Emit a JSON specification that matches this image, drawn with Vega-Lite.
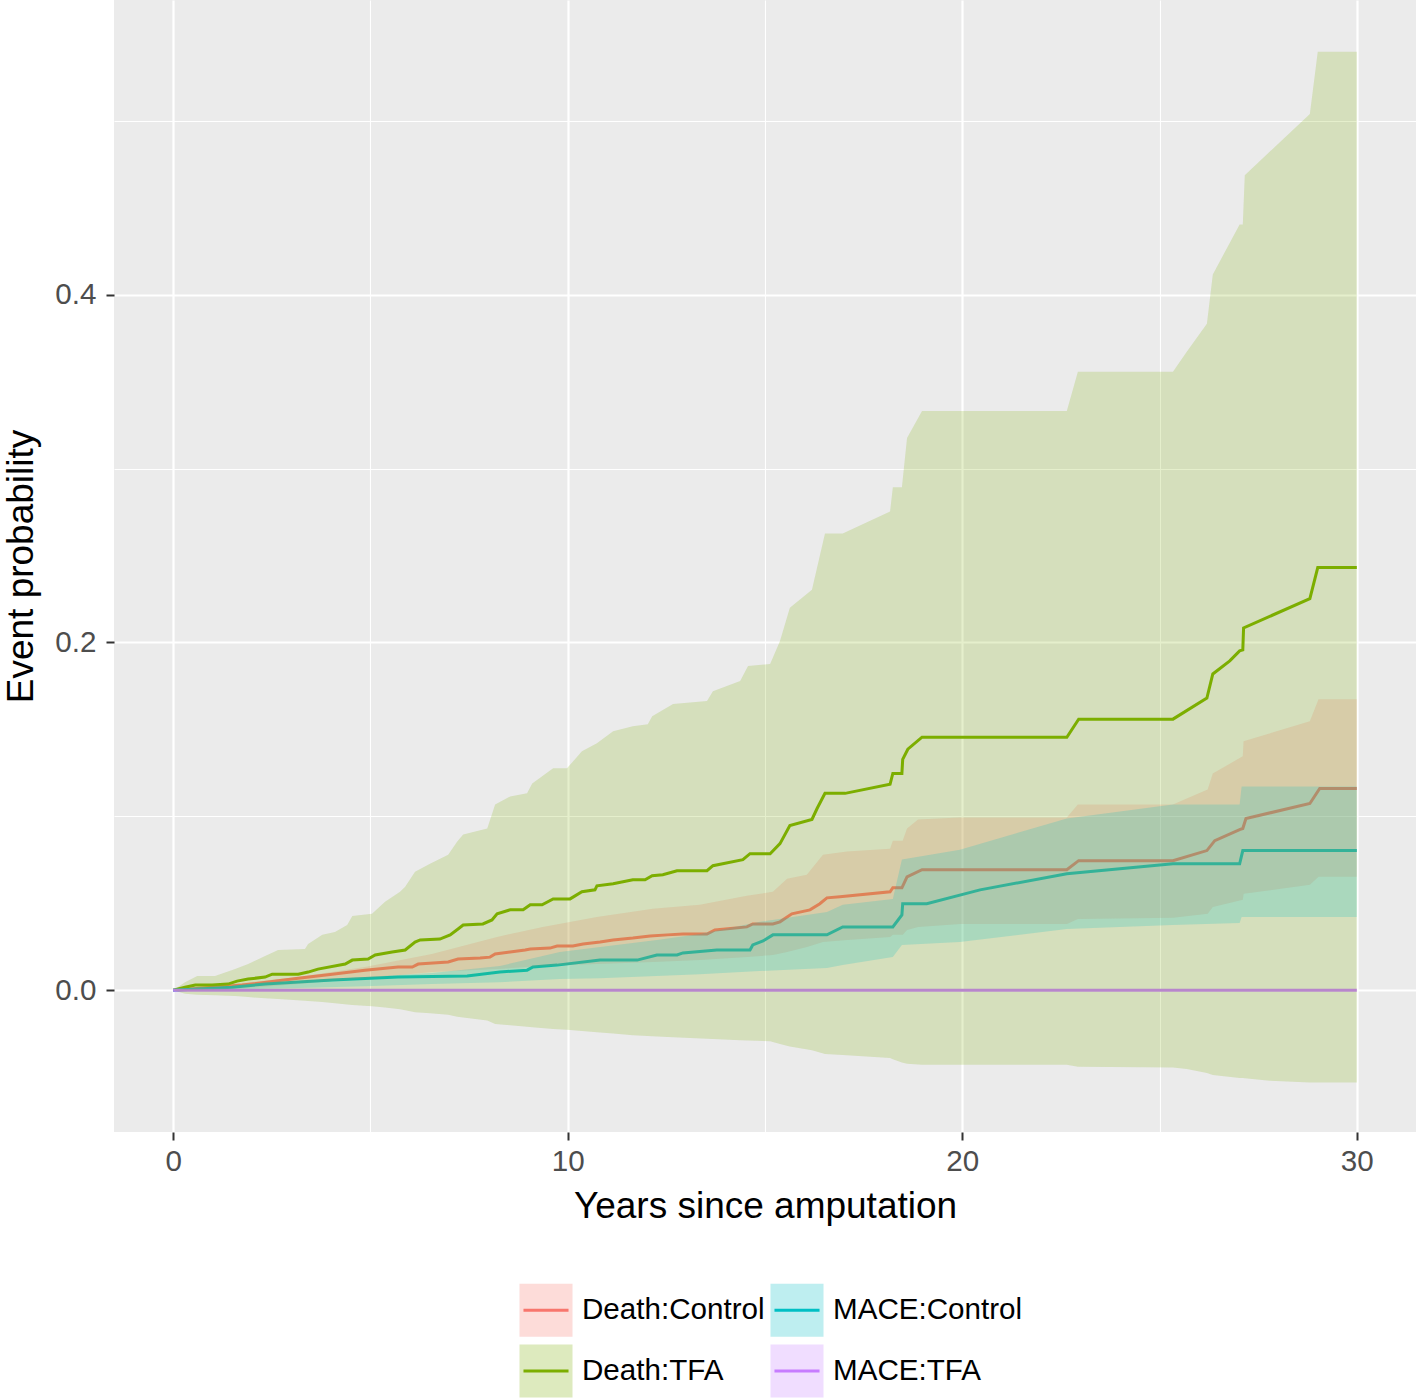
{
  "$schema": "https://vega.github.io/schema/vega-lite/v6.json",
  "width": 1302,
  "height": 1132,
  "autosize": {"type": "none"},
  "padding": {"left": 114, "top": 0, "right": 2, "bottom": 266},
  "background": "white",
  "config": {
    "view": {"fill": "#EBEBEB", "stroke": null},
    "font": "Liberation Sans",
    "axis": {
      "domain": false,
      "gridColor": "white",
      "labelFont": "Liberation Sans",
      "labelFontSize": 29.6,
      "labelColor": "#4D4D4D",
      "tickColor": "#333333",
      "tickWidth": 2,
      "tickSize": 8,
      "titleFont": "Liberation Sans",
      "titleFontSize": 37,
      "titleFontWeight": "normal",
      "titleColor": "black"
    },
    "legend": {
      "orient": "none",
      "legendX": 404,
      "legendY": 1282,
      "direction": "horizontal",
      "columns": 2,
      "title": null,
      "padding": 0,
      "labelFont": "Liberation Sans",
      "labelFontSize": 29.6,
      "labelColor": "black",
      "labelLimit": 500,
      "labelOffset": 8,
      "rowPadding": -20,
      "columnPadding": -1,
      "symbolSize": 2809,
      "symbolStrokeWidth": 3
    }
  },
  "datasets": {
    "lines": [
      {"g": "Death:Control", "t": 0, "v": 0},
      {"g": "Death:Control", "t": 1.75, "v": 0.0029},
      {"g": "Death:Control", "t": 3.17, "v": 0.0069},
      {"g": "Death:Control", "t": 4.03, "v": 0.0092},
      {"g": "Death:Control", "t": 4.86, "v": 0.0115},
      {"g": "Death:Control", "t": 5.7, "v": 0.0133},
      {"g": "Death:Control", "t": 6.06, "v": 0.0133},
      {"g": "Death:Control", "t": 6.21, "v": 0.015},
      {"g": "Death:Control", "t": 6.97, "v": 0.0162},
      {"g": "Death:Control", "t": 7.22, "v": 0.0179},
      {"g": "Death:Control", "t": 7.78, "v": 0.0185},
      {"g": "Death:Control", "t": 8.03, "v": 0.019},
      {"g": "Death:Control", "t": 8.16, "v": 0.0208},
      {"g": "Death:Control", "t": 8.54, "v": 0.0219},
      {"g": "Death:Control", "t": 8.92, "v": 0.0231},
      {"g": "Death:Control", "t": 9.05, "v": 0.0237},
      {"g": "Death:Control", "t": 9.55, "v": 0.0242},
      {"g": "Death:Control", "t": 9.73, "v": 0.0254},
      {"g": "Death:Control", "t": 10.13, "v": 0.0254},
      {"g": "Death:Control", "t": 10.39, "v": 0.0266},
      {"g": "Death:Control", "t": 10.82, "v": 0.0277},
      {"g": "Death:Control", "t": 11.15, "v": 0.0289},
      {"g": "Death:Control", "t": 11.65, "v": 0.03},
      {"g": "Death:Control", "t": 12.09, "v": 0.0312},
      {"g": "Death:Control", "t": 12.52, "v": 0.0318},
      {"g": "Death:Control", "t": 12.92, "v": 0.0323},
      {"g": "Death:Control", "t": 13.53, "v": 0.0323},
      {"g": "Death:Control", "t": 13.73, "v": 0.0346},
      {"g": "Death:Control", "t": 14.54, "v": 0.0364},
      {"g": "Death:Control", "t": 14.69, "v": 0.0381},
      {"g": "Death:Control", "t": 15.2, "v": 0.0381},
      {"g": "Death:Control", "t": 15.38, "v": 0.0393},
      {"g": "Death:Control", "t": 15.68, "v": 0.0439},
      {"g": "Death:Control", "t": 16.14, "v": 0.0462},
      {"g": "Death:Control", "t": 16.39, "v": 0.0497},
      {"g": "Death:Control", "t": 16.57, "v": 0.0531},
      {"g": "Death:Control", "t": 16.9, "v": 0.0537},
      {"g": "Death:Control", "t": 18.17, "v": 0.0566},
      {"g": "Death:Control", "t": 18.24, "v": 0.0589},
      {"g": "Death:Control", "t": 18.47, "v": 0.0589},
      {"g": "Death:Control", "t": 18.6, "v": 0.0652},
      {"g": "Death:Control", "t": 18.98, "v": 0.0693},
      {"g": "Death:Control", "t": 22.65, "v": 0.0693},
      {"g": "Death:Control", "t": 22.95, "v": 0.0745},
      {"g": "Death:Control", "t": 25.34, "v": 0.0745},
      {"g": "Death:Control", "t": 26.2, "v": 0.0803},
      {"g": "Death:Control", "t": 26.4, "v": 0.086},
      {"g": "Death:Control", "t": 27.03, "v": 0.0924},
      {"g": "Death:Control", "t": 27.11, "v": 0.093},
      {"g": "Death:Control", "t": 27.19, "v": 0.0987},
      {"g": "Death:Control", "t": 28.81, "v": 0.1074},
      {"g": "Death:Control", "t": 29.06, "v": 0.116},
      {"g": "Death:Control", "t": 30, "v": 0.116},

      {"g": "Death:TFA", "t": 0, "v": 0},
      {"g": "Death:TFA", "t": 0.3, "v": 0.0017},
      {"g": "Death:TFA", "t": 0.56, "v": 0.0029},
      {"g": "Death:TFA", "t": 0.99, "v": 0.0029},
      {"g": "Death:TFA", "t": 1.39, "v": 0.0035},
      {"g": "Death:TFA", "t": 1.62, "v": 0.0052},
      {"g": "Death:TFA", "t": 1.9, "v": 0.0064},
      {"g": "Death:TFA", "t": 2.33, "v": 0.0075},
      {"g": "Death:TFA", "t": 2.51, "v": 0.0092},
      {"g": "Death:TFA", "t": 3.17, "v": 0.0092},
      {"g": "Death:TFA", "t": 3.42, "v": 0.0104},
      {"g": "Death:TFA", "t": 3.67, "v": 0.0121},
      {"g": "Death:TFA", "t": 4.36, "v": 0.015},
      {"g": "Death:TFA", "t": 4.54, "v": 0.0173},
      {"g": "Death:TFA", "t": 4.94, "v": 0.0179},
      {"g": "Death:TFA", "t": 5.12, "v": 0.0202},
      {"g": "Death:TFA", "t": 5.55, "v": 0.0219},
      {"g": "Death:TFA", "t": 5.88, "v": 0.0231},
      {"g": "Death:TFA", "t": 6.13, "v": 0.0277},
      {"g": "Death:TFA", "t": 6.26, "v": 0.0289},
      {"g": "Death:TFA", "t": 6.76, "v": 0.0294},
      {"g": "Death:TFA", "t": 7.02, "v": 0.0318},
      {"g": "Death:TFA", "t": 7.22, "v": 0.0352},
      {"g": "Death:TFA", "t": 7.35, "v": 0.0375},
      {"g": "Death:TFA", "t": 7.85, "v": 0.0381},
      {"g": "Death:TFA", "t": 8.08, "v": 0.0404},
      {"g": "Death:TFA", "t": 8.21, "v": 0.0439},
      {"g": "Death:TFA", "t": 8.54, "v": 0.0462},
      {"g": "Death:TFA", "t": 8.87, "v": 0.0462},
      {"g": "Death:TFA", "t": 9.05, "v": 0.0491},
      {"g": "Death:TFA", "t": 9.35, "v": 0.0491},
      {"g": "Death:TFA", "t": 9.63, "v": 0.0525},
      {"g": "Death:TFA", "t": 10.06, "v": 0.0525},
      {"g": "Death:TFA", "t": 10.36, "v": 0.0566},
      {"g": "Death:TFA", "t": 10.69, "v": 0.0577},
      {"g": "Death:TFA", "t": 10.74, "v": 0.06},
      {"g": "Death:TFA", "t": 11.15, "v": 0.0612},
      {"g": "Death:TFA", "t": 11.65, "v": 0.0635},
      {"g": "Death:TFA", "t": 11.96, "v": 0.0635},
      {"g": "Death:TFA", "t": 12.14, "v": 0.0658},
      {"g": "Death:TFA", "t": 12.41, "v": 0.0664},
      {"g": "Death:TFA", "t": 12.77, "v": 0.0687},
      {"g": "Death:TFA", "t": 13.53, "v": 0.0687},
      {"g": "Death:TFA", "t": 13.68, "v": 0.0716},
      {"g": "Death:TFA", "t": 14.44, "v": 0.0751},
      {"g": "Death:TFA", "t": 14.62, "v": 0.0785},
      {"g": "Death:TFA", "t": 15.13, "v": 0.0785},
      {"g": "Death:TFA", "t": 15.38, "v": 0.0843},
      {"g": "Death:TFA", "t": 15.63, "v": 0.0947},
      {"g": "Death:TFA", "t": 16.19, "v": 0.0982},
      {"g": "Death:TFA", "t": 16.32, "v": 0.1045},
      {"g": "Death:TFA", "t": 16.52, "v": 0.1132},
      {"g": "Death:TFA", "t": 17.03, "v": 0.1132},
      {"g": "Death:TFA", "t": 18.17, "v": 0.1184},
      {"g": "Death:TFA", "t": 18.24, "v": 0.1247},
      {"g": "Death:TFA", "t": 18.47, "v": 0.1247},
      {"g": "Death:TFA", "t": 18.49, "v": 0.1328},
      {"g": "Death:TFA", "t": 18.62, "v": 0.1386},
      {"g": "Death:TFA", "t": 18.98, "v": 0.1455},
      {"g": "Death:TFA", "t": 22.65, "v": 0.1455},
      {"g": "Death:TFA", "t": 22.95, "v": 0.1559},
      {"g": "Death:TFA", "t": 25.34, "v": 0.1559},
      {"g": "Death:TFA", "t": 26.2, "v": 0.168},
      {"g": "Death:TFA", "t": 26.35, "v": 0.1819},
      {"g": "Death:TFA", "t": 26.78, "v": 0.1894},
      {"g": "Death:TFA", "t": 27.03, "v": 0.1952},
      {"g": "Death:TFA", "t": 27.11, "v": 0.1957},
      {"g": "Death:TFA", "t": 27.13, "v": 0.2084},
      {"g": "Death:TFA", "t": 28.81, "v": 0.2252},
      {"g": "Death:TFA", "t": 29.01, "v": 0.2431},
      {"g": "Death:TFA", "t": 30, "v": 0.2431},

      {"g": "MACE:Control", "t": 0, "v": 0},
      {"g": "MACE:Control", "t": 1.49, "v": 0.0017},
      {"g": "MACE:Control", "t": 2.33, "v": 0.0035},
      {"g": "MACE:Control", "t": 4.03, "v": 0.0058},
      {"g": "MACE:Control", "t": 5.7, "v": 0.0075},
      {"g": "MACE:Control", "t": 7.45, "v": 0.0081},
      {"g": "MACE:Control", "t": 8.28, "v": 0.0104},
      {"g": "MACE:Control", "t": 8.97, "v": 0.0115},
      {"g": "MACE:Control", "t": 9.12, "v": 0.0133},
      {"g": "MACE:Control", "t": 9.73, "v": 0.0144},
      {"g": "MACE:Control", "t": 10.82, "v": 0.0173},
      {"g": "MACE:Control", "t": 11.76, "v": 0.0173},
      {"g": "MACE:Control", "t": 12.26, "v": 0.0202},
      {"g": "MACE:Control", "t": 12.77, "v": 0.0202},
      {"g": "MACE:Control", "t": 12.92, "v": 0.0214},
      {"g": "MACE:Control", "t": 13.78, "v": 0.0231},
      {"g": "MACE:Control", "t": 14.62, "v": 0.0231},
      {"g": "MACE:Control", "t": 14.69, "v": 0.026},
      {"g": "MACE:Control", "t": 14.95, "v": 0.0283},
      {"g": "MACE:Control", "t": 15.2, "v": 0.0318},
      {"g": "MACE:Control", "t": 16.57, "v": 0.0318},
      {"g": "MACE:Control", "t": 16.97, "v": 0.0364},
      {"g": "MACE:Control", "t": 18.24, "v": 0.0364},
      {"g": "MACE:Control", "t": 18.47, "v": 0.0433},
      {"g": "MACE:Control", "t": 18.49, "v": 0.0497},
      {"g": "MACE:Control", "t": 19.1, "v": 0.0497},
      {"g": "MACE:Control", "t": 20.45, "v": 0.0577},
      {"g": "MACE:Control", "t": 22.65, "v": 0.067},
      {"g": "MACE:Control", "t": 25.34, "v": 0.0727},
      {"g": "MACE:Control", "t": 27.03, "v": 0.0727},
      {"g": "MACE:Control", "t": 27.11, "v": 0.0803},
      {"g": "MACE:Control", "t": 30, "v": 0.0803},

      {"g": "MACE:TFA", "t": 0, "v": 0},
      {"g": "MACE:TFA", "t": 30, "v": 0}
    ],
    "bands": [
      {"g": "Death:Control", "t": 0, "lo": 0, "hi": 0},
      {"g": "Death:Control", "t": 1.49, "lo": 0.0006, "hi": 0.0035},
      {"g": "Death:Control", "t": 3.17, "lo": 0.0035, "hi": 0.0075},
      {"g": "Death:Control", "t": 4.86, "lo": 0.0069, "hi": 0.0133},
      {"g": "Death:Control", "t": 6.56, "lo": 0.0104, "hi": 0.0208},
      {"g": "Death:Control", "t": 8.21, "lo": 0.0121, "hi": 0.0306},
      {"g": "Death:Control", "t": 9.37, "lo": 0.0139, "hi": 0.0364},
      {"g": "Death:Control", "t": 10.74, "lo": 0.015, "hi": 0.0421},
      {"g": "Death:Control", "t": 12.16, "lo": 0.0162, "hi": 0.0468},
      {"g": "Death:Control", "t": 13.35, "lo": 0.0173, "hi": 0.0491},
      {"g": "Death:Control", "t": 14.54, "lo": 0.0191, "hi": 0.0543},
      {"g": "Death:Control", "t": 15.2, "lo": 0.0202, "hi": 0.0566},
      {"g": "Death:Control", "t": 15.56, "lo": 0.0219, "hi": 0.0641},
      {"g": "Death:Control", "t": 16.06, "lo": 0.0248, "hi": 0.0664},
      {"g": "Death:Control", "t": 16.47, "lo": 0.0277, "hi": 0.0779},
      {"g": "Death:Control", "t": 17.08, "lo": 0.0289, "hi": 0.0797},
      {"g": "Death:Control", "t": 18.17, "lo": 0.0306, "hi": 0.0814},
      {"g": "Death:Control", "t": 18.24, "lo": 0.0318, "hi": 0.086},
      {"g": "Death:Control", "t": 18.49, "lo": 0.0318, "hi": 0.086},
      {"g": "Death:Control", "t": 18.6, "lo": 0.0346, "hi": 0.093},
      {"g": "Death:Control", "t": 18.88, "lo": 0.0364, "hi": 0.0982},
      {"g": "Death:Control", "t": 19.94, "lo": 0.0381, "hi": 0.0993},
      {"g": "Death:Control", "t": 22.65, "lo": 0.0381, "hi": 0.0993},
      {"g": "Death:Control", "t": 22.93, "lo": 0.041, "hi": 0.1068},
      {"g": "Death:Control", "t": 25.34, "lo": 0.0416, "hi": 0.1068},
      {"g": "Death:Control", "t": 26.22, "lo": 0.0439, "hi": 0.1155},
      {"g": "Death:Control", "t": 26.35, "lo": 0.0479, "hi": 0.1247},
      {"g": "Death:Control", "t": 27.11, "lo": 0.052, "hi": 0.1345},
      {"g": "Death:Control", "t": 27.13, "lo": 0.0554, "hi": 0.1432},
      {"g": "Death:Control", "t": 28.81, "lo": 0.0606, "hi": 0.1547},
      {"g": "Death:Control", "t": 29.03, "lo": 0.0652, "hi": 0.1674},
      {"g": "Death:Control", "t": 30, "lo": 0.0652, "hi": 0.1674},

      {"g": "Death:TFA", "t": 0, "lo": 0, "hi": 0},
      {"g": "Death:TFA", "t": 0.3, "lo": -0.002, "hi": 0.0046},
      {"g": "Death:TFA", "t": 0.61, "lo": -0.0026, "hi": 0.0081},
      {"g": "Death:TFA", "t": 1.06, "lo": -0.0029, "hi": 0.0081},
      {"g": "Death:TFA", "t": 1.57, "lo": -0.0034, "hi": 0.0121},
      {"g": "Death:TFA", "t": 1.9, "lo": -0.004, "hi": 0.015},
      {"g": "Death:TFA", "t": 2.33, "lo": -0.0047, "hi": 0.0196},
      {"g": "Death:TFA", "t": 2.66, "lo": -0.0051, "hi": 0.0231},
      {"g": "Death:TFA", "t": 3.34, "lo": -0.0061, "hi": 0.0237},
      {"g": "Death:TFA", "t": 3.42, "lo": -0.0062, "hi": 0.0266},
      {"g": "Death:TFA", "t": 3.78, "lo": -0.0068, "hi": 0.0318},
      {"g": "Death:TFA", "t": 4.1, "lo": -0.0075, "hi": 0.0335},
      {"g": "Death:TFA", "t": 4.41, "lo": -0.0083, "hi": 0.0375},
      {"g": "Death:TFA", "t": 4.54, "lo": -0.0085, "hi": 0.0427},
      {"g": "Death:TFA", "t": 5.04, "lo": -0.0093, "hi": 0.0439},
      {"g": "Death:TFA", "t": 5.37, "lo": -0.01, "hi": 0.0508},
      {"g": "Death:TFA", "t": 5.75, "lo": -0.011, "hi": 0.0566},
      {"g": "Death:TFA", "t": 5.88, "lo": -0.0115, "hi": 0.0595},
      {"g": "Death:TFA", "t": 6.13, "lo": -0.0127, "hi": 0.0681},
      {"g": "Death:TFA", "t": 6.51, "lo": -0.0133, "hi": 0.0727},
      {"g": "Death:TFA", "t": 6.97, "lo": -0.0142, "hi": 0.0779},
      {"g": "Death:TFA", "t": 7.2, "lo": -0.0153, "hi": 0.0855},
      {"g": "Death:TFA", "t": 7.35, "lo": -0.0158, "hi": 0.0895},
      {"g": "Death:TFA", "t": 7.96, "lo": -0.0175, "hi": 0.093},
      {"g": "Death:TFA", "t": 8.16, "lo": -0.0195, "hi": 0.1068},
      {"g": "Death:TFA", "t": 8.54, "lo": -0.0202, "hi": 0.1114},
      {"g": "Death:TFA", "t": 8.97, "lo": -0.021, "hi": 0.1132},
      {"g": "Death:TFA", "t": 9.1, "lo": -0.0213, "hi": 0.1189},
      {"g": "Death:TFA", "t": 9.63, "lo": -0.0223, "hi": 0.1276},
      {"g": "Death:TFA", "t": 9.98, "lo": -0.0228, "hi": 0.1276},
      {"g": "Death:TFA", "t": 10.36, "lo": -0.0235, "hi": 0.1374},
      {"g": "Death:TFA", "t": 10.74, "lo": -0.0242, "hi": 0.142},
      {"g": "Death:TFA", "t": 11.15, "lo": -0.025, "hi": 0.149},
      {"g": "Death:TFA", "t": 11.65, "lo": -0.0259, "hi": 0.1518},
      {"g": "Death:TFA", "t": 12.03, "lo": -0.0264, "hi": 0.153},
      {"g": "Death:TFA", "t": 12.14, "lo": -0.0265, "hi": 0.1576},
      {"g": "Death:TFA", "t": 12.67, "lo": -0.0271, "hi": 0.1646},
      {"g": "Death:TFA", "t": 13.53, "lo": -0.028, "hi": 0.1663},
      {"g": "Death:TFA", "t": 13.68, "lo": -0.0281, "hi": 0.172},
      {"g": "Death:TFA", "t": 14.37, "lo": -0.0288, "hi": 0.1778},
      {"g": "Death:TFA", "t": 14.57, "lo": -0.029, "hi": 0.1865},
      {"g": "Death:TFA", "t": 15.13, "lo": -0.0294, "hi": 0.1876},
      {"g": "Death:TFA", "t": 15.38, "lo": -0.031, "hi": 0.2009},
      {"g": "Death:TFA", "t": 15.63, "lo": -0.0324, "hi": 0.22},
      {"g": "Death:TFA", "t": 16.19, "lo": -0.0345, "hi": 0.2304},
      {"g": "Death:TFA", "t": 16.52, "lo": -0.0368, "hi": 0.2627},
      {"g": "Death:TFA", "t": 16.97, "lo": -0.0373, "hi": 0.2627},
      {"g": "Death:TFA", "t": 18.17, "lo": -0.0391, "hi": 0.2754},
      {"g": "Death:TFA", "t": 18.24, "lo": -0.0397, "hi": 0.2893},
      {"g": "Death:TFA", "t": 18.47, "lo": -0.0416, "hi": 0.2893},
      {"g": "Death:TFA", "t": 18.6, "lo": -0.0424, "hi": 0.3176},
      {"g": "Death:TFA", "t": 18.98, "lo": -0.0429, "hi": 0.3331},
      {"g": "Death:TFA", "t": 22.65, "lo": -0.0429, "hi": 0.3331},
      {"g": "Death:TFA", "t": 22.93, "lo": -0.0441, "hi": 0.3557},
      {"g": "Death:TFA", "t": 25.34, "lo": -0.0445, "hi": 0.3557},
      {"g": "Death:TFA", "t": 25.69, "lo": -0.0454, "hi": 0.3673},
      {"g": "Death:TFA", "t": 26.2, "lo": -0.0477, "hi": 0.3834},
      {"g": "Death:TFA", "t": 26.35, "lo": -0.0488, "hi": 0.4117},
      {"g": "Death:TFA", "t": 27.03, "lo": -0.0505, "hi": 0.4405},
      {"g": "Death:TFA", "t": 27.11, "lo": -0.0506, "hi": 0.4405},
      {"g": "Death:TFA", "t": 27.16, "lo": -0.0507, "hi": 0.4688},
      {"g": "Death:TFA", "t": 27.79, "lo": -0.0521, "hi": 0.4823},
      {"g": "Death:TFA", "t": 28.81, "lo": -0.0531, "hi": 0.504},
      {"g": "Death:TFA", "t": 29.01, "lo": -0.0531, "hi": 0.5398},
      {"g": "Death:TFA", "t": 30, "lo": -0.0531, "hi": 0.5398},

      {"g": "MACE:Control", "t": 0, "lo": 0, "hi": 0},
      {"g": "MACE:Control", "t": 1.49, "lo": 0.0006, "hi": 0.0023},
      {"g": "MACE:Control", "t": 3.17, "lo": 0.0012, "hi": 0.0052},
      {"g": "MACE:Control", "t": 4.86, "lo": 0.0023, "hi": 0.0075},
      {"g": "MACE:Control", "t": 6.56, "lo": 0.0035, "hi": 0.0098},
      {"g": "MACE:Control", "t": 8.28, "lo": 0.0046, "hi": 0.0139},
      {"g": "MACE:Control", "t": 9.8, "lo": 0.0064, "hi": 0.0219},
      {"g": "MACE:Control", "t": 10.82, "lo": 0.0069, "hi": 0.0248},
      {"g": "MACE:Control", "t": 12.26, "lo": 0.0081, "hi": 0.0289},
      {"g": "MACE:Control", "t": 13.35, "lo": 0.0092, "hi": 0.0323},
      {"g": "MACE:Control", "t": 14.87, "lo": 0.011, "hi": 0.0393},
      {"g": "MACE:Control", "t": 16.57, "lo": 0.0127, "hi": 0.045},
      {"g": "MACE:Control", "t": 16.97, "lo": 0.0144, "hi": 0.0491},
      {"g": "MACE:Control", "t": 18.24, "lo": 0.0191, "hi": 0.0525},
      {"g": "MACE:Control", "t": 18.47, "lo": 0.026, "hi": 0.0751},
      {"g": "MACE:Control", "t": 19.94, "lo": 0.0277, "hi": 0.0808},
      {"g": "MACE:Control", "t": 22.65, "lo": 0.0352, "hi": 0.0987},
      {"g": "MACE:Control", "t": 25.34, "lo": 0.0375, "hi": 0.1068},
      {"g": "MACE:Control", "t": 27.03, "lo": 0.0387, "hi": 0.1068},
      {"g": "MACE:Control", "t": 27.08, "lo": 0.0421, "hi": 0.1172},
      {"g": "MACE:Control", "t": 30, "lo": 0.0421, "hi": 0.1172},

      {"g": "MACE:TFA", "t": 0, "lo": 0, "hi": 0},
      {"g": "MACE:TFA", "t": 30, "lo": 0, "hi": 0}
    ]
  },
  "layer": [
    {
      "data": {"name": "lines"},
      "mark": {"type": "line", "strokeWidth": 3},
      "encoding": {
        "x": {
          "field": "t", "type": "quantitative",
          "scale": {"domain": [-1.5, 31.5], "nice": false, "zero": false},
          "axis": {"orient": "top", "values": [5, 15, 25], "grid": true, "gridWidth": 1.1, "labels": false, "ticks": false, "domain": false, "title": null}
        },
        "y": {
          "field": "v", "type": "quantitative",
          "scale": {"domain": [-0.0816, 0.5696], "nice": false, "zero": false},
          "axis": {"orient": "right", "values": [0.1, 0.3, 0.5], "grid": true, "gridWidth": 1.1, "labels": false, "ticks": false, "domain": false, "title": null}
        },
        "color": {
          "field": "g", "type": "nominal",
          "sort": ["Death:Control", "MACE:Control", "Death:TFA", "MACE:TFA"],
          "scale": {"range": ["#F8766D", "#00BFC4", "#7CAE00", "#C77CFF"]},
          "legend": null
        }
      }
    },
    {
      "data": {"name": "bands"},
      "mark": {"type": "area", "fillOpacity": 0.2},
      "encoding": {
        "x": {
          "field": "t", "type": "quantitative",
          "scale": {"domain": [-1.5, 31.5], "nice": false, "zero": false},
          "axis": {"orient": "bottom", "values": [0, 10, 20, 30], "grid": true, "gridWidth": 2.2, "labelPadding": 7, "titlePadding": 13, "title": "Years since amputation"}
        },
        "y": {
          "field": "hi", "type": "quantitative",
          "scale": {"domain": [-0.0816, 0.5696], "nice": false, "zero": false},
          "axis": {"orient": "left", "values": [0, 0.2, 0.4], "format": ".1f", "grid": true, "gridWidth": 2.2, "labelPadding": 10, "titlePadding": 14, "title": "Event probability"}
        },
        "y2": {"field": "lo"},
        "fill": {
          "field": "g", "type": "nominal",
          "scale": {"domain": ["Death:Control", "MACE:Control", "Death:TFA", "MACE:TFA"], "range": ["#F8766D", "#00BFC4", "#7CAE00", "#C77CFF"]},
          "legend": {
            "symbolType": "square",
            "symbolOpacity": 0.25,
            "symbolStrokeColor": "transparent"
          }
        }
      }
    },
    {
      "data": {"name": "lines"},
      "transform": [{"filter": "datum.t == 0"}],
      "mark": {"type": "line", "strokeWidth": 3},
      "encoding": {
        "x": {"field": "t", "type": "quantitative", "axis": null},
        "y": {"field": "v", "type": "quantitative", "axis": null},
        "stroke": {
          "field": "g", "type": "nominal",
          "sort": ["Death:Control", "MACE:Control", "Death:TFA", "MACE:TFA"],
          "scale": {"range": ["#F8766D", "#00BFC4", "#7CAE00", "#C77CFF"]},
          "legend": {
            "symbolType": "M-1,-1M1,1M-0.85,0H0.85",
            "symbolFillColor": "transparent",
            "symbolOpacity": 1,
            "labelOpacity": 0
          }
        }
      }
    }
  ]
}
